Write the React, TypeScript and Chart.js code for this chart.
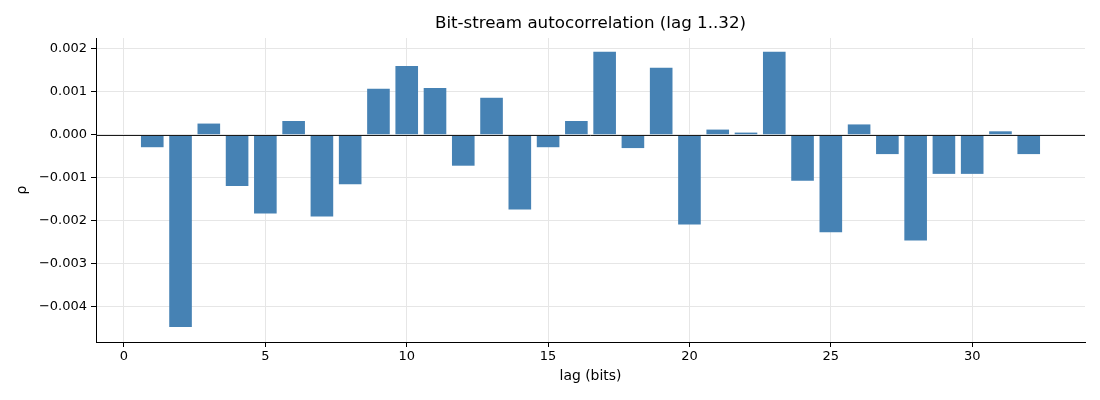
import { useEffect, useRef } from 'react';
import { Chart, registerables } from 'chart.js';

Chart.register(...registerables);

const lags = [1, 2, 3, 4, 5, 6, 7, 8, 9, 10, 11, 12, 13, 14, 15, 16, 17, 18, 19, 20, 21, 22, 23, 24, 25, 26, 27, 28, 29, 30, 31, 32];
const rho = [
  -0.00029, -0.00447, 0.00026, -0.00119, -0.00183, 0.00032, -0.0019, -0.00115,
  0.00107, 0.0016, 0.00109, -0.00072, 0.00086, -0.00174, -0.00029, 0.00032,
  0.00193, -0.00031, 0.00156, -0.00209, 0.00012, 0.00005, 0.00193, -0.00107,
  -0.00227, 0.00024, -0.00045, -0.00246, -0.00091, -0.00091, 0.00008, -0.00045,
];
const xTicks = [0, 5, 10, 15, 20, 25, 30];
const yTicks = [-0.004, -0.003, -0.002, -0.001, 0, 0.001, 0.002];
const TITLE = 'Bit-stream autocorrelation (lag 1..32)';

const FONT = 'DejaVu Sans';

// zero line over the bars, plus the title centred on the plot area like matplotlib
const overlay = {
  id: 'overlay',
  afterDatasetsDraw(chart: Chart) {
    const { ctx, chartArea, scales } = chart;
    const y = Math.round(scales.y.getPixelForValue(0)) + 0.5;
    ctx.save();
    ctx.strokeStyle = '#1a1a1a';
    ctx.lineWidth = 1;
    ctx.beginPath();
    ctx.moveTo(chartArea.left, y);
    ctx.lineTo(chartArea.right, y);
    ctx.stroke();

    ctx.fillStyle = '#000';
    ctx.font = `16.7px "${FONT}"`;
    ctx.textAlign = 'center';
    ctx.textBaseline = 'middle';
    ctx.fillText(TITLE, (chartArea.left + chartArea.right) / 2, 24);
    ctx.restore();
  },
};

export default function App() {
  const canvasRef = useRef<HTMLCanvasElement>(null);
  const chartRef = useRef<Chart | null>(null);

  useEffect(() => {
    if (!canvasRef.current) return;
    if (chartRef.current) chartRef.current.destroy();

    chartRef.current = new Chart(canvasRef.current, {
      type: 'bar',
      data: {
        datasets: [{
          data: lags.map((l, i) => ({ x: l, y: rho[i] })),
          backgroundColor: '#4682b4',
          barPercentage: 0.8,
          categoryPercentage: 1.0,
          borderWidth: 0,
          inflateAmount: 0,
        }],
      },
      plugins: [overlay],
      options: {
        animation: false,
        responsive: true,
        maintainAspectRatio: false,
        layout: { padding: { left: 0, right: 15, top: 38, bottom: 0 } },
        plugins: {
          legend: { display: false },
          tooltip: { enabled: false },
          title: { display: false },
        },
        scales: {
          x: {
            type: 'linear',
            min: -0.99,
            max: 33.99,
            offset: false,
            afterBuildTicks: (s: any) => { s.ticks = xTicks.map((v) => ({ value: v })); },
            afterFit: (s: any) => { s.height = 58; },
            ticks: {
              color: '#000',
              font: { family: FONT, size: 13 },
              padding: 2,
              maxRotation: 0,
              callback: (v: any) => String(v),
            },
            grid: { offset: false, color: '#e6e6e6', tickColor: '#000', tickLength: 5, lineWidth: 1 },
            border: { display: true, color: '#000', width: 1 },
            title: {
              display: true,
              text: 'lag (bits)',
              color: '#000',
              font: { family: FONT, size: 13.9 },
              padding: { top: 4, bottom: 15 },
            },
          },
          y: {
            min: -0.00482,
            max: 0.00225,
            afterBuildTicks: (s: any) => { s.ticks = yTicks.map((v) => ({ value: v })); },
            afterFit: (s: any) => { s.width = 96; },
            ticks: {
              color: '#000',
              font: { family: FONT, size: 13 },
              padding: 4,
              callback: (v: any) => Number(v).toFixed(3).replace('-', '\u2212'),
            },
            grid: { color: '#e6e6e6', tickColor: '#000', tickLength: 5, lineWidth: 1 },
            border: { display: true, color: '#000', width: 1 },
            title: {
              display: true,
              text: 'ρ',
              color: '#000',
              font: { family: FONT, size: 13.9 },
              padding: { top: 14, bottom: 0 },
            },
          },
        },
      },
    });

    return () => chartRef.current?.destroy();
  }, []);

  return (
    <div style={{ position: 'fixed', left: 0, top: 0, width: 1100, height: 400, background: '#fff' }}>
      <canvas ref={canvasRef} />
    </div>
  );
}
